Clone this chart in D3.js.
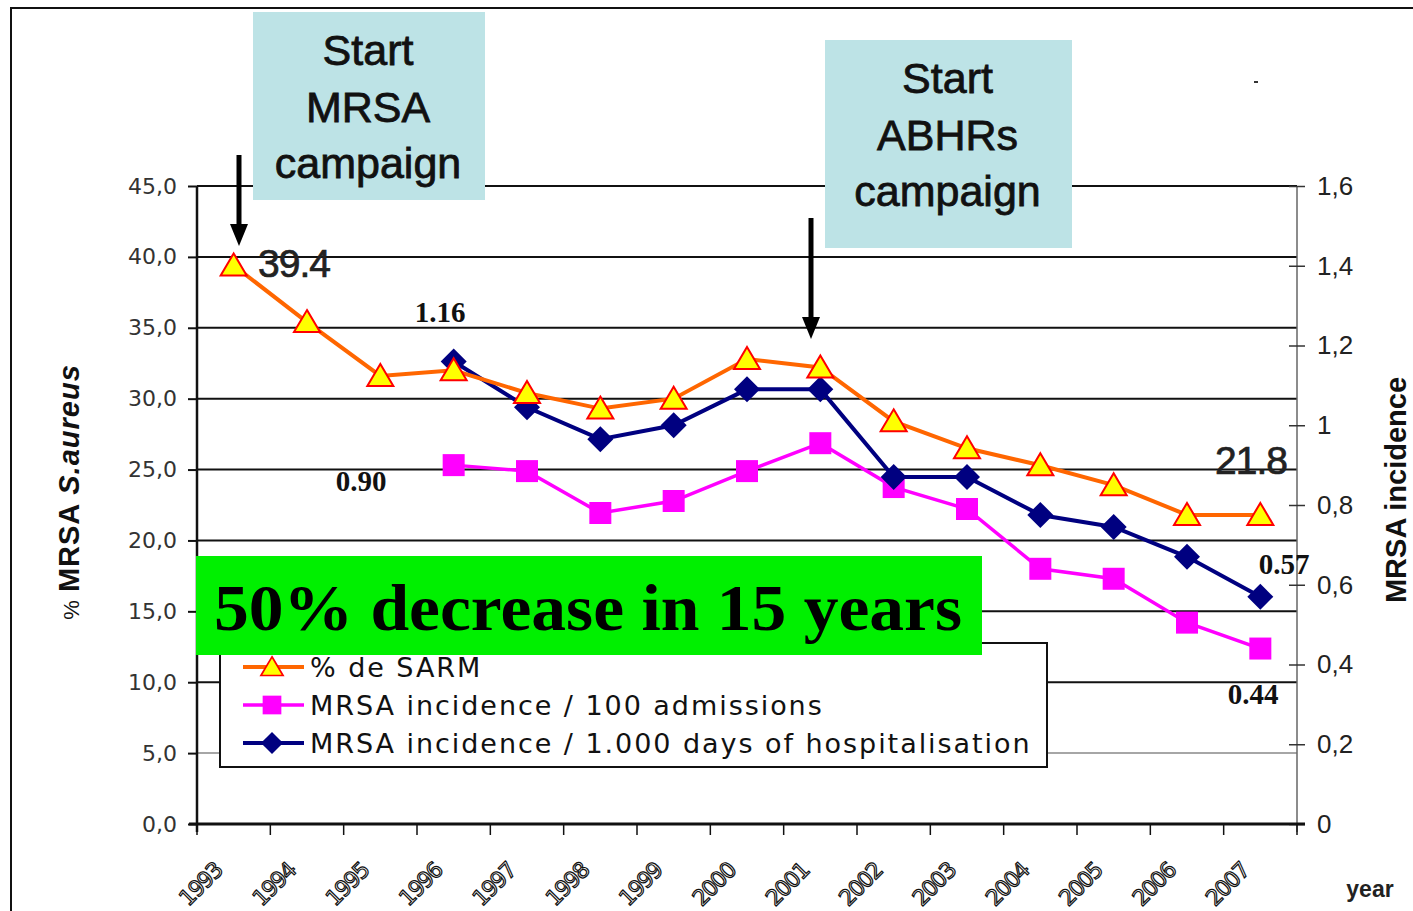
<!DOCTYPE html>
<html>
<head>
<meta charset="utf-8">
<script src="https://cdn.jsdelivr.net/npm/d3@7"></script>
<style>
  body { margin: 0; background: #fff; }
  svg { display: block; }
</style>
</head>
<body>
<div id="container"></div>
<script>
// data
const years = ["1993","1994","1995","1996","1997","1998","1999","2000","2001","2002","2003","2004","2005","2006","2007"]
const pctSarm = [39.4, 35.4, 31.6, 32.0, 30.4, 29.3, 30.0, 32.8, 32.2, 28.4, 26.5, 25.3, 23.9, 21.8, 21.8]
const perAdmissions = [null, null, null, 0.90, 0.885, 0.78, 0.81, 0.885, 0.955, 0.845, 0.79, 0.64, 0.615, 0.505, 0.44]
const perDays = [null, null, null, 1.16, 1.045, 0.965, 1.0, 1.09, 1.09, 0.87, 0.87, 0.775, 0.745, 0.67, 0.57]
const leftTicks = [0, 5, 10, 15, 20, 25, 30, 35, 40, 45]
const rightTicks = [0, 0.2, 0.4, 0.6, 0.8, 1, 1.2, 1.4, 1.6]
const legendLabels = ["% de SARM", "MRSA incidence / 100 admissions", "MRSA incidence / 1.000 days of hospitalisation"]

const width = 1413
const height = 911
const plot = { left: 197, right: 1297, top: 186, bottom: 824 }

const x = d3.scaleBand().domain(years).range([plot.left, plot.right]).paddingInner(0).paddingOuter(0)
const cx = (y) => x(y) + x.bandwidth() / 2
const yL = d3.scaleLinear().domain([0, 45]).range([plot.bottom, plot.top])
const yR = d3.scaleLinear().domain([0, 1.6]).range([plot.bottom, plot.top])

const svg = d3.create("svg").attr("width", width).attr("height", height)
  .attr("font-family", "'Liberation Sans', Arial, sans-serif")

// outer frame
svg.append("rect").attr("x", 11).attr("y", 8).attr("width", 1430).attr("height", 940)
  .attr("fill", "#fff").attr("stroke", "#111").attr("stroke-width", 2)

// gridlines on left ticks
svg.append("g").selectAll("line").data(leftTicks.filter(d => d > 0)).join("line")
  .attr("x1", plot.left).attr("x2", plot.right)
  .attr("y1", d => yL(d)).attr("y2", d => yL(d))
  .attr("stroke", d => d === 5 ? "#888" : "#111").attr("stroke-width", d => d === 5 ? 1.5 : 2)

// left axis
const gL = svg.append("g").attr("transform", `translate(${plot.left},0)`)
  .call(d3.axisLeft(yL).tickValues(leftTicks).tickSize(9).tickPadding(11)
    .tickFormat(d => d3.format(".1f")(d).replace(".", ",")))
gL.select(".domain").attr("stroke", "#111").attr("stroke-width", 2.5).attr("d", `M0,${plot.top}V${plot.bottom + 8}`)
gL.selectAll(".tick line").attr("stroke", "#111").attr("stroke-width", 2)
gL.selectAll("text").attr("font-size", 22).attr("fill", "#333").attr("font-family", "'DejaVu Sans', sans-serif")

// right axis
const gR = svg.append("g").attr("transform", `translate(${plot.right},0)`)
  .call(d3.axisRight(yR).tickValues(rightTicks).tickSize(8).tickPadding(12)
    .tickFormat(d => String(d).replace(".", ",")))
gR.select(".domain").attr("stroke", "#666").attr("stroke-width", 1.5).attr("d", `M0,${plot.top}V${plot.bottom + 8}`)
gR.selectAll(".tick line").attr("x1", -8).attr("stroke", "#333").attr("stroke-width", 1.5)
gR.selectAll("text").attr("font-size", 26).attr("fill", "#222").attr("font-family", "'Liberation Sans', sans-serif")

// x axis
svg.append("line").attr("x1", plot.left - 8).attr("x2", plot.right + 8)
  .attr("y1", plot.bottom).attr("y2", plot.bottom).attr("stroke", "#111").attr("stroke-width", 3)
const bounds = years.map(y => x(y)).concat([plot.right])
svg.append("g").selectAll("line").data(bounds).join("line")
  .attr("x1", d => d).attr("x2", d => d).attr("y1", plot.bottom).attr("y2", plot.bottom + 11)
  .attr("stroke", "#111").attr("stroke-width", 1.5)
svg.append("g").selectAll("text").data(years).join("text")
  .attr("transform", d => `translate(${cx(d) - 10},${plot.bottom + 48}) rotate(-45)`)
  .attr("text-anchor", "end").attr("font-size", 22).attr("fill", "#fff")
  .attr("stroke", "#111").attr("stroke-width", 1.2)
  .attr("font-family", "'DejaVu Sans', sans-serif").attr("letter-spacing", -1.5)
  .text(d => d)

svg.append("text").attr("x", 1370).attr("y", 897).attr("text-anchor", "middle")
  .attr("font-size", 23).attr("font-weight", "bold").attr("fill", "#222").text("year")

// axis titles
const tL = svg.append("text").attr("transform", "translate(79,492) rotate(-90)")
  .attr("text-anchor", "middle").attr("font-size", 29).attr("font-weight", "bold").attr("fill", "#111")
  .attr("letter-spacing", 1)
tL.append("tspan").attr("font-size", 22).attr("font-weight", "normal").text("% ")
tL.append("tspan").text("MRSA ")
tL.append("tspan").attr("font-style", "italic").text("S.aureus")
svg.append("text").attr("transform", "translate(1406,490) rotate(-90)")
  .attr("text-anchor", "middle").attr("font-size", 29).attr("font-weight", "bold").attr("fill", "#111")
  .text("MRSA incidence")

// series lines
const lineOf = (vals, scale) => d3.line()
  .defined(d => d[1] != null)
  .x(d => cx(d[0])).y(d => scale(d[1]))(years.map((y, i) => [y, vals[i]]))

svg.append("path").attr("d", lineOf(perAdmissions, yR)).attr("fill", "none")
  .attr("stroke", "#ff00ff").attr("stroke-width", 3.5)
svg.append("path").attr("d", lineOf(perDays, yR)).attr("fill", "none")
  .attr("stroke", "#000080").attr("stroke-width", 4)
svg.append("path").attr("d", lineOf(pctSarm, yL)).attr("fill", "none")
  .attr("stroke", "#ff6600").attr("stroke-width", 4)

// markers
const tri = "M0,-12L13,10L-13,10Z"
const sq = "M-11,-11H11V11H-11Z"
const dia = "M0,-13L13,0L0,13L-13,0Z"

svg.append("g").selectAll("path").data(years.map((y, i) => [y, perAdmissions[i]]).filter(d => d[1] != null))
  .join("path").attr("d", sq).attr("fill", "#ff00ff")
  .attr("transform", d => `translate(${cx(d[0])},${yR(d[1])})`)
svg.append("g").selectAll("path").data(years.map((y, i) => [y, perDays[i]]).filter(d => d[1] != null))
  .join("path").attr("d", dia).attr("fill", "#000080")
  .attr("transform", d => `translate(${cx(d[0])},${yR(d[1])})`)
svg.append("g").selectAll("path").data(years.map((y, i) => [y, pctSarm[i]]))
  .join("path").attr("d", tri).attr("fill", "#ffff00").attr("stroke", "#ff0000").attr("stroke-width", 2)
  .attr("transform", d => `translate(${cx(d[0])},${yL(d[1])})`)

// value labels
const firstDays = perDays.findIndex(d => d != null)
const firstAdm = perAdmissions.findIndex(d => d != null)
const last = years.length - 1
svg.append("text").attr("x", 258).attr("y", yL(pctSarm[0]) + 12).attr("font-size", 39).attr("fill", "#222")
  .attr("stroke", "#222").attr("stroke-width", 0.7).attr("letter-spacing", -1).text(pctSarm[0].toFixed(1))
svg.append("text").attr("x", 1287).attr("y", 474).attr("text-anchor", "end").attr("font-size", 39).attr("fill", "#222")
  .attr("stroke", "#222").attr("stroke-width", 0.7).attr("letter-spacing", -1).text(pctSarm[last].toFixed(1))

const boldSerif = (sel) => sel.attr("font-family", "'Liberation Serif', 'Times New Roman', serif")
  .attr("font-weight", "bold").attr("font-size", 29).attr("fill", "#111")
svg.append("text").attr("x", 440).attr("y", 322).attr("text-anchor", "middle").call(boldSerif).text(perDays[firstDays].toFixed(2))
svg.append("text").attr("x", 361).attr("y", 491).attr("text-anchor", "middle").call(boldSerif).text(perAdmissions[firstAdm].toFixed(2))
svg.append("text").attr("x", 1284).attr("y", 574).attr("text-anchor", "middle").call(boldSerif).text(perDays[last].toFixed(2))
svg.append("text").attr("x", 1253).attr("y", 704).attr("text-anchor", "middle").call(boldSerif).text(perAdmissions[last].toFixed(2))

// legend
svg.append("rect").attr("x", 220).attr("y", 643).attr("width", 827).attr("height", 124)
  .attr("fill", "#fff").attr("stroke", "#111").attr("stroke-width", 2)
const legendMarks = [
  { color: "#ff6600", shape: tri, fill: "#ffff00", stroke: "#ff0000", w: 4, s: 0.85 },
  { color: "#ff00ff", shape: sq, fill: "#ff00ff", stroke: "none", w: 3.5, s: 0.85 },
  { color: "#000080", shape: dia, fill: "#000080", stroke: "none", w: 4, s: 0.85 }
]
const lg = svg.append("g").selectAll("g").data(legendLabels).join("g")
  .attr("transform", (d, i) => `translate(0,${667 + i * 38})`)
lg.append("line").attr("x1", 243).attr("x2", 304).attr("y1", 0).attr("y2", 0)
  .attr("stroke", (d, i) => legendMarks[i].color).attr("stroke-width", (d, i) => legendMarks[i].w)
lg.append("path").attr("d", (d, i) => legendMarks[i].shape)
  .attr("transform", (d, i) => `translate(272,0) scale(${legendMarks[i].s})`)
  .attr("fill", (d, i) => legendMarks[i].fill).attr("stroke", (d, i) => legendMarks[i].stroke).attr("stroke-width", 2)
lg.append("text").attr("x", 310).attr("y", 10).attr("font-size", 27).attr("fill", "#111")
  .attr("font-family", "'DejaVu Sans', sans-serif").attr("letter-spacing", 1.95).text(d => d)

// green banner
svg.append("rect").attr("x", 196).attr("y", 556).attr("width", 786).attr("height", 99).attr("fill", "#00f000")
svg.append("text").attr("x", 214).attr("y", 630).attr("textLength", 748).attr("lengthAdjust", "spacingAndGlyphs")
  .attr("font-family", "'Liberation Serif', 'Times New Roman', serif").attr("font-weight", "bold")
  .attr("font-size", 66).attr("fill", "#000").text("50% decrease in 15 years")

// campaign boxes and arrows
const boxes = [
  { x: 253, y: 12, w: 232, h: 188, lines: ["Start", "MRSA", "campaign"], ty: 50 },
  { x: 825, y: 40, w: 247, h: 208, lines: ["Start", "ABHRs", "campaign"], ty: 78 }
]
boxes.forEach(b => {
  svg.append("rect").attr("x", b.x).attr("y", b.y).attr("width", b.w).attr("height", b.h).attr("fill", "#bde3e6")
  svg.append("g").selectAll("text").data(b.lines).join("text")
    .attr("x", b.x + b.w / 2 - 1).attr("y", (d, i) => b.ty + 15 + i * 56.5)
    .attr("text-anchor", "middle").attr("font-size", 43).attr("fill", "#111")
    .attr("stroke", "#111").attr("stroke-width", 0.8).text(d => d)
})

const arrows = [{ x: 239, y1: 155, y2: 246 }, { x: 811, y1: 218, y2: 339 }]
arrows.forEach(a => {
  svg.append("line").attr("x1", a.x).attr("x2", a.x).attr("y1", a.y1).attr("y2", a.y2 - 18)
    .attr("stroke", "#000").attr("stroke-width", 5)
  svg.append("path").attr("d", `M${a.x - 9},${a.y2 - 22}L${a.x + 9},${a.y2 - 22}L${a.x},${a.y2}Z`).attr("fill", "#000")
})

// small stray dash in the original slide
svg.append("rect").attr("x", 1254).attr("y", 81).attr("width", 4).attr("height", 2).attr("fill", "#333")

document.getElementById("container").append(svg.node())
</script>
</body>
</html>
